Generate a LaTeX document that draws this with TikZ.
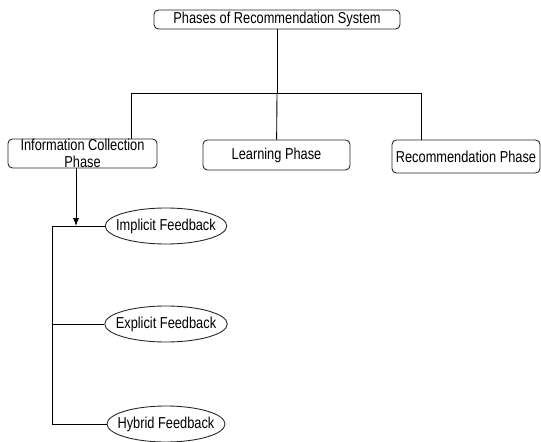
\documentclass[tikz,border=0pt]{standalone}
\usepackage{fontspec}
\setmainfont{Liberation Sans}[FakeStretch=0.81]
\usetikzlibrary{arrows.meta,shapes.geometric}

\begin{document}
\begin{tikzpicture}[x=0.02cm, y=-0.02cm,
		phasebox/.style={draw=black!85, rounded corners=2.5pt, line width=0.5pt, inner sep=0pt, font=\fontsize{9}{9.6}\selectfont, align=center},
		fbell/.style={draw=black!85, ellipse, line width=0.5pt, inner ysep=0pt, inner xsep=-3.9pt, minimum width=2.36cm, minimum height=0.72cm, font=\fontsize{9}{9.6}\selectfont},
		link/.style={line width=0.5pt, black}]
		%%%%% START %%%%%
		
		\useasboundingbox (0, 0) rectangle (541, 442);
		
		\node[phasebox, minimum width=4.92cm, minimum height=0.38cm] (top) at (277, 19.5) {Phases of Recommendation System};
		
		\node[phasebox, minimum width=2.98cm, minimum height=0.58cm] (info) at (82.5, 153.5) {Information Collection\\Phase};
		\node[phasebox, minimum width=2.94cm, minimum height=0.6cm] (learn) at (276.5, 155) {Learning Phase};
		\node[phasebox, minimum width=2.96cm, minimum height=0.66cm] (rec) at (466, 156.5) {Recommendation Phase};
		
		\coordinate (bus) at (top |- 0, 93);
		\coordinate (busl) at (131, 93);
		\coordinate (busr) at (421, 93);
		
		\draw[link] (top) -- (bus);
		\draw[link] (busl) -- (busr);
		\draw[link] (busl) -- (busl |- info.north);
		\draw[link] (bus) -- (learn);
		\draw[link] (busr) -- (busr |- rec.north);
		
		\node[fbell] (implicit) at (166, 226) {Implicit Feedback};
		\node[fbell] (explicit) at (166, 324) {Explicit Feedback};
		\node[fbell] (hybrid) at (166, 424) {Hybrid Feedback};
		
		\coordinate (tap) at (76, 226);
		\coordinate (trunk) at (52, 226);
		
		\draw[link, -{Latex[length=4.5pt, width=3.5pt]}] (tap |- info.south) -- (tap);
		\draw[link] (trunk) -- (trunk |- hybrid);
		\draw[link] (trunk) -- (implicit);
		\draw[link] (trunk |- explicit) -- (explicit);
		\draw[link] (trunk |- hybrid) -- (hybrid);
		
		%%%%% END %%%%%
	\end{tikzpicture}
\end{document}
